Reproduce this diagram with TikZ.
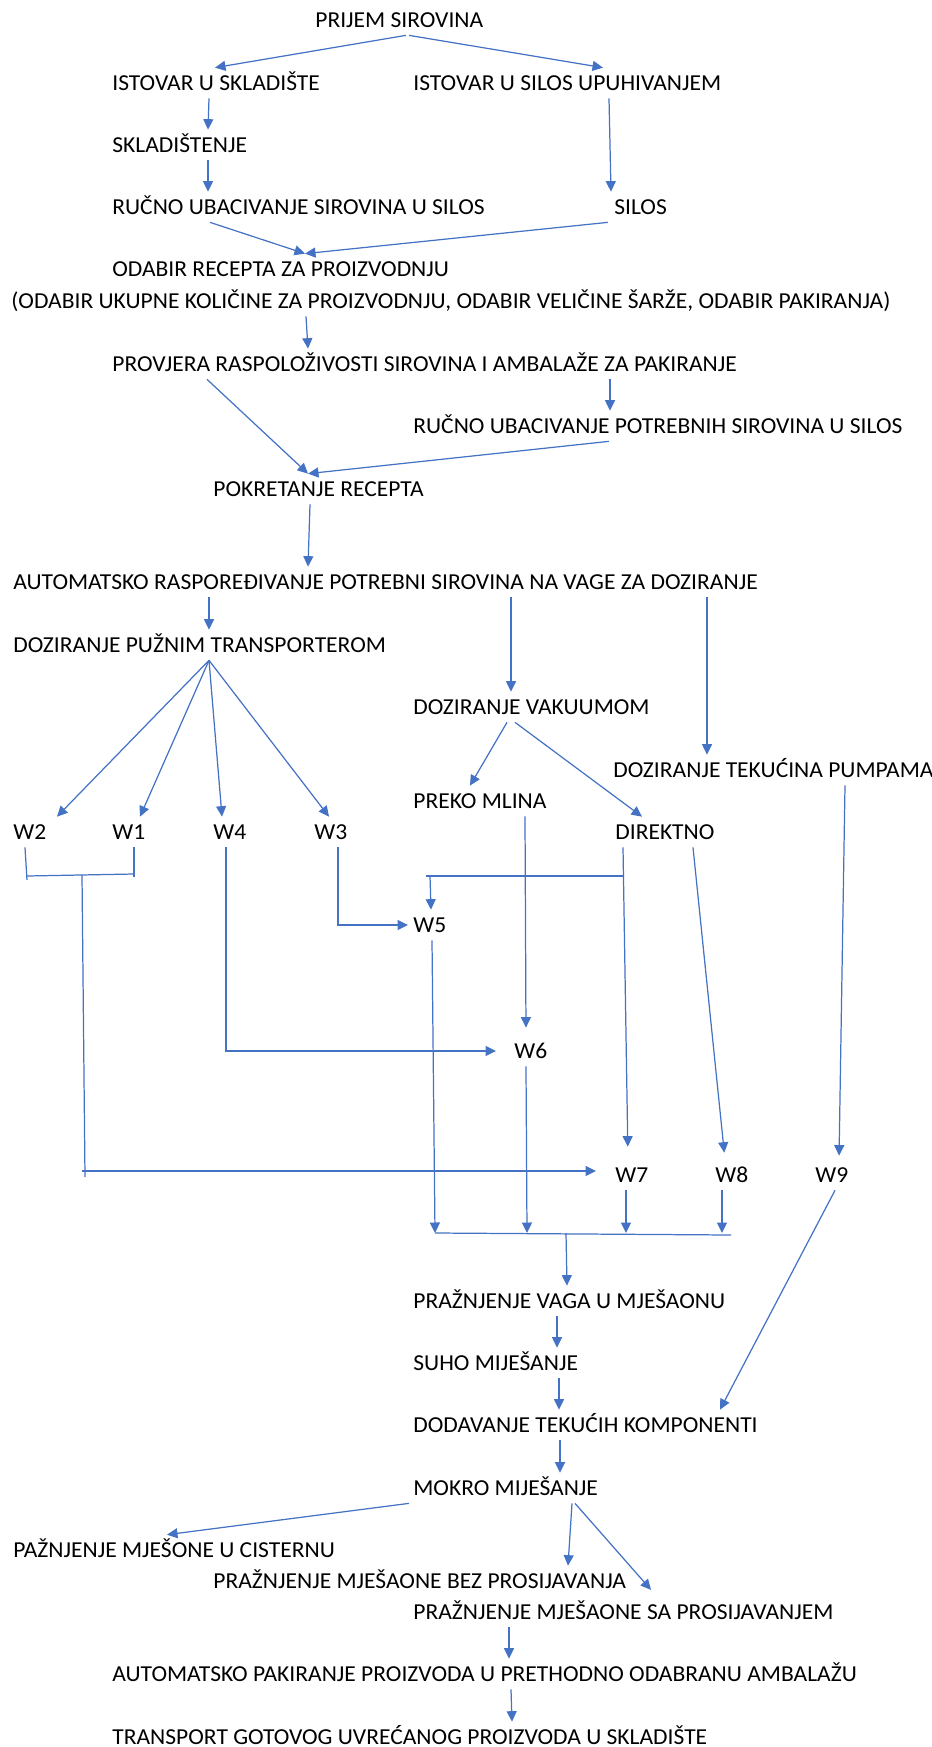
\documentclass[tikz,border=0pt]{standalone}
\usepackage{fontspec}
\setmainfont{Carlito}[FakeStretch=1.03]
\usetikzlibrary{arrows.meta}
\definecolor{flowblue}{HTML}{4472C4}
\begin{document}
\begin{tikzpicture}[x=0.02cm, y=-0.02cm,
  stepbox/.style={anchor=west, inner xsep=0pt, inner ysep=0.155cm, text height=0.29cm, text depth=0pt, font=\fontsize{13}{15}\selectfont},
  link/.style={draw=flowblue, line width=0.7pt},
  arr/.style={link, -{Triangle[length=0.21cm, width=0.2cm]}}]
\useasboundingbox (0,0) rectangle (932,1747);
% steps, top part
\node[stepbox] (prijem) at (315,20) {PRIJEM SIROVINA};
\node[stepbox] (istsk) at (112,83) {ISTOVAR U SKLADIŠTE};
\node[stepbox] (istsil) at (413,83) {ISTOVAR U SILOS UPUHIVANJEM};
\node[stepbox] (skl) at (112,145) {SKLADIŠTENJE};
\node[stepbox] (rucno) at (112,207) {RUČNO UBACIVANJE SIROVINA U SILOS};
\node[stepbox] (silos) at (614,207) {SILOS};
\node[stepbox] (odabir) at (112,269) {ODABIR RECEPTA ZA PROIZVODNJU};
\node[stepbox] (opcije) at (11,301) {(ODABIR UKUPNE KOLIČINE ZA PROIZVODNJU, ODABIR VELIČINE ŠARŽE, ODABIR PAKIRANJA)};
\node[stepbox] (provjera) at (112,364) {PROVJERA RASPOLOŽIVOSTI SIROVINA I AMBALAŽE ZA PAKIRANJE};
\node[stepbox] (rucnopot) at (413,426) {RUČNO UBACIVANJE POTREBNIH SIROVINA U SILOS};
\node[stepbox] (pokret) at (213,489) {POKRETANJE RECEPTA};
\node[stepbox] (autorasp) at (13,582) {AUTOMATSKO RASPOREĐIVANJE POTREBNI SIROVINA NA VAGE ZA DOZIRANJE};
% dosing
\node[stepbox] (puzni) at (13,645) {DOZIRANJE PUŽNIM TRANSPORTEROM};
\node[stepbox] (vakuum) at (413,707) {DOZIRANJE VAKUUMOM};
\node[stepbox] (tekucina) at (613,770) {DOZIRANJE TEKUĆINA PUMPAMA};
\node[stepbox] (mlin) at (413,801) {PREKO MLINA};
\node[stepbox] (w2) at (13,832) {W2};
\node[stepbox] (w1) at (112,832) {W1};
\node[stepbox] (w4) at (213,832) {W4};
\node[stepbox] (w3) at (314,832) {W3};
\node[stepbox] (direktno) at (615,832) {DIREKTNO};
\node[stepbox] (w5) at (413,925) {W5};
\node[stepbox] (w6) at (514,1051) {W6};
\node[stepbox] (w7) at (615,1175) {W7};
\node[stepbox] (w8) at (715,1175) {W8};
\node[stepbox] (w9) at (815,1175) {W9};
% mixing and packing
\node[stepbox] (praznvaga) at (413,1301) {PRAŽNJENJE VAGA U MJEŠAONU};
\node[stepbox] (suho) at (413,1363) {SUHO MIJEŠANJE};
\node[stepbox] (dodavanje) at (413,1425) {DODAVANJE TEKUĆIH KOMPONENTI};
\node[stepbox] (mokro) at (413,1488) {MOKRO MIJEŠANJE};
\node[stepbox] (cisterna) at (13,1550) {PAŽNJENJE MJEŠONE U CISTERNU};
\node[stepbox] (bez) at (213,1581) {PRAŽNJENJE MJEŠAONE BEZ PROSIJAVANJA};
\node[stepbox] (sa) at (413,1612) {PRAŽNJENJE MJEŠAONE SA PROSIJAVANJEM};
\node[stepbox] (pakiranje) at (112,1674) {AUTOMATSKO PAKIRANJE PROIZVODA U PRETHODNO ODABRANU AMBALAŽU};
\node[stepbox] (transport) at (112,1737) {TRANSPORT GOTOVOG UVREĆANOG PROIZVODA U SKLADIŠTE};
% junctions
\coordinate (bw2) at (27,876);
\coordinate (bw1) at (134,874);
\coordinate (jw12) at (82,875);
\coordinate (jw12e) at (85,1177);
\coordinate (jdir) at (624,876);
\coordinate (barl) at (435,1233);
\coordinate (barr) at (731,1235);
% arrows, top part
\draw[arr] (prijem.south -| 406,0) -- (istsk.north -| 215,0);
\draw[arr] (prijem.south -| 409,0) -- (istsil.north -| 603,0);
\draw[arr] (istsk.south -| 209,0) -- (skl.north -| 208,0);
\draw[arr] (skl.south -| 208,0) -- (rucno.north -| 208,0);
\draw[arr] (istsil.south -| 609,0) -- (silos.north -| 611,0);
\draw[arr] (rucno.south -| 210,0) -- (odabir.north -| 305,0);
\draw[arr] (silos.south -| 608,0) -- (odabir.north -| 305,0);
\draw[arr] (opcije.south -| 306,0) -- (provjera.north -| 308,0);
\draw[arr] (provjera.south -| 207,0) -- (pokret.north -| 308,0);
\draw[arr] (provjera.south -| 610,0) -- (rucnopot.north -| 610,0);
\draw[arr] (rucnopot.south -| 609,0) -- (pokret.north -| 308,0);
\draw[arr] (pokret.south -| 310,0) -- (autorasp.north -| 308,0);
\draw[arr] (autorasp.south -| 209,0) -- (puzni.north -| 209,0);
\draw[arr] (autorasp.south -| 511,0) -- (vakuum.north -| 511,0);
\draw[arr] (autorasp.south -| 707,0) -- (tekucina.north -| 707,0);
% screw conveyor to scales
\draw[arr] (puzni.south -| 209,0) -- (w2.north -| 57,0);
\draw[arr] (puzni.south -| 209,0) -- (w1.north -| 140,0);
\draw[arr] (puzni.south -| 209,0) -- (w4.north -| 222,0);
\draw[arr] (puzni.south -| 209,0) -- (w3.north -| 329,0);
\draw[arr] (vakuum.south -| 507,0) -- (mlin.north -| 470,0);
\draw[arr] (vakuum.south -| 515,0) -- (direktno.north -| 642,0);
\draw[arr, shorten >=0.08cm] (tekucina.south -| 845,0) -- (w9.north -| 839,0);
% bracket W2/W1
\draw[link] (w2.south -| 25,0) -- (bw2 |- 0,880);
\draw[link] (w1.south -| 134,0) -- (bw1 |- 0,877);
\draw[link] (bw2) -- (bw1);
\draw[link] (jw12) -- (jw12e);
\draw[arr] (jw12 |- 0,1171) -- ([xshift=-0.38cm]w7.west |- 0,1171);
\draw[arr] (w4.south -| 226,0) |- ([xshift=-0.36cm]w6.west);
\draw[arr] (w3.south -| 338,0) |- ([xshift=-0.1cm]w5.west);
\draw[arr, shorten >=0.16cm] (mlin.south -| 525,0) -- (w6.north -| 526,0);
\draw[arr, shorten >=0.26cm] (direktno.south -| 623,0) -- (w7.north -| 628,0);
\draw[link] (jdir) -- (jdir -| 426,0);
\draw[arr] (jdir -| 430,0) -- (w5.north -| 431,0);
\draw[arr, shorten >=0.14cm] (direktno.south -| 693,0) -- (w8.north -| 725,0);
% collecting bar
\draw[link] (barl) -- (barr);
\draw[arr] (w5.south -| 432,0) -- (barl -| 435,0);
\draw[arr] (w6.south -| 526,0) -- (barl -| 527,0);
\draw[arr] (w7.south -| 626,0) -- (barl -| 626,0);
\draw[arr] (w8.south -| 722,0) -- (barl -| 722,0);
\draw[arr] (barl -| 566,0) -- (praznvaga.north -| 567,0);
% mixing
\draw[arr] (praznvaga.south -| 557,0) -- (suho.north -| 557,0);
\draw[arr] (suho.south -| 559,0) -- (dodavanje.north -| 559,0);
\draw[arr] (w9.south -| 835,0) -- (dodavanje.north -| 720,0);
\draw[arr] (dodavanje.south -| 560,0) -- (mokro.north -| 560,0);
\draw[arr] (mokro.south -| 409,0) -- (cisterna.north -| 167,0);
\draw[arr] (mokro.south -| 572,0) -- (bez.north -| 568,0);
\draw[arr, shorten >=0.18cm] (mokro.south -| 575,0) -- (sa.north -| 657,0);
\draw[arr] (sa.south -| 509,0) -- (pakiranje.north -| 509,0);
\draw[arr] (pakiranje.south -| 511,0) -- (transport.north -| 512,0);
\end{tikzpicture}
\end{document}
